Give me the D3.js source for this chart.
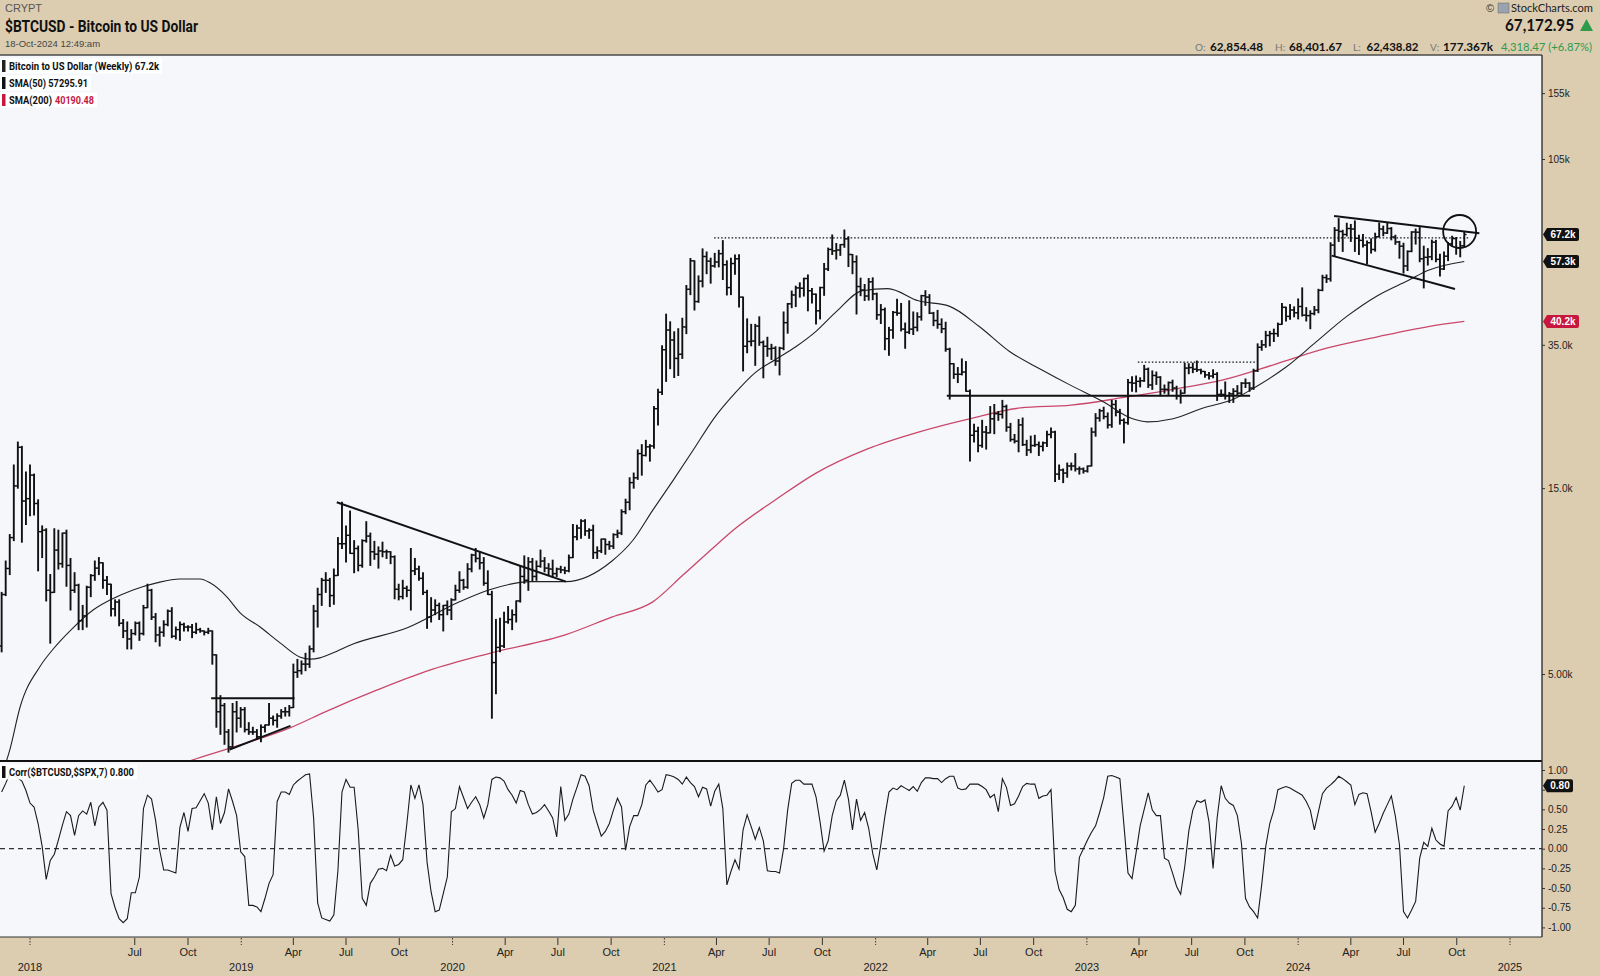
<!DOCTYPE html>
<html><head><meta charset="utf-8">
<script src="https://cdn.jsdelivr.net/npm/d3@7"></script>
<style>
body{margin:0;background:#dccdb1;}
svg{display:block}
</style></head><body>
<svg id="c" width="1600" height="976"></svg>
<script>
// ---------------- DATA (prices in thousands of USD, weekly bars) ----------------
const firstWeek = "2017-11-13";
const firstOpen = 5.9;
const weekHigh = [
 8.1,9.75,11.4,17.2,19.7,19.2,16.5,
 17.2,16.3,14.0,12.0,11.8,9.0,11.8,11.7,11.5,11.7,9.9,9.1,8.5,7.5,8.4,9.0,9.75,9.95,9.65,8.9,8.5,7.75,7.75,6.9,6.8,6.5,6.8,6.8,7.5,8.5,8.25,7.15,6.6,6.85,7.3,7.4,6.6,6.8,6.75,6.65,6.7,6.75,6.55,6.45,6.55,6.45,5.6,4.4,4.2,3.6,4.2,4.25,4.1,
 4.1,3.75,3.65,3.6,3.7,3.7,4.2,3.9,3.95,4.05,4.1,4.15,5.3,5.45,5.4,5.65,5.9,7.5,8.3,8.8,9.1,8.8,9.3,11.2,13.8,12.0,13.1,11.0,10.65,11.05,12.3,11.5,10.95,10.6,10.9,10.4,10.3,10.05,8.5,8.7,8.4,10.5,9.9,9.45,9.1,8.2,7.85,7.75,7.6,7.5,7.7,7.8,
 8.45,9.15,8.75,9.6,10.15,10.5,10.3,9.95,9.2,8.15,6.9,6.95,7.2,7.45,7.3,7.7,9.45,10.05,9.95,9.9,9.75,10.4,9.95,9.6,9.8,9.35,9.45,9.4,10.1,12.1,12.05,12.45,12.45,11.8,12.05,10.6,11.1,10.95,10.95,11.45,11.7,13.2,14.05,15.95,16.4,18.8,19.4,19.9,19.4,24.3,26.9,34.8,
 41.95,40.1,37.8,38.5,40.95,49.7,58.3,57.5,52.6,61.7,60.6,58.4,60.1,61.2,64.8,57.5,58.4,59.5,59.6,45.8,40.8,39.5,39.5,41.3,35.8,36.6,35.1,34.6,34.5,42.5,44.7,48.1,49.5,50.5,51.9,52.9,48.8,47.3,49.2,56.6,62.0,67.0,63.7,63.3,69.0,66.3,59.7,59.2,51.9,50.0,51.8,52.0,
 47.5,44.4,43.5,38.8,42.6,45.8,44.7,39.8,45.4,42.5,42.3,46.9,48.2,47.1,42.4,42.9,40.8,40.0,34.3,31.3,30.6,32.2,31.7,26.8,21.9,21.5,22.4,21.6,24.3,24.6,23.6,25.2,24.5,22.0,20.6,22.5,22.7,19.9,20.4,20.5,19.7,19.7,21.0,21.4,21.0,17.2,16.8,17.4,17.4,18.4,17.0,16.9,
 17.1,21.4,23.3,23.9,24.2,23.4,25.2,25.2,23.9,22.6,28.5,29.0,29.1,28.8,31.0,30.5,30.0,29.8,29.0,27.6,28.1,28.4,27.4,26.8,31.4,31.3,31.4,31.8,30.3,29.9,29.7,30.2,29.7,26.8,28.1,26.4,27.0,27.5,28.0,28.6,28.0,30.3,35.2,35.9,37.9,37.9,38.4,39.8,44.7,43.4,44.4,43.8,
 45.9,49.0,43.6,42.8,43.9,48.6,52.8,52.9,64.0,70.0,73.8,68.9,71.8,71.3,72.8,66.9,67.2,64.7,65.5,67.7,71.9,70.6,71.9,70.0,66.9,64.5,63.8,61.0,68.3,69.4,70.0,62.7,61.8,65.0,64.9,59.8,60.6,64.1,66.5,66.0,64.5,68.4
];
const weekLow = [
 5.7,7.95,9.0,11.0,15.0,10.9,12.1,
 12.75,12.8,9.2,9.95,7.7,6.0,8.1,9.3,9.4,8.4,7.3,8.1,6.5,6.5,6.6,7.9,8.7,9.0,8.3,8.0,7.05,7.05,6.65,6.2,5.8,5.8,6.3,6.1,6.3,7.4,6.9,6.05,5.9,6.25,6.65,6.2,6.15,6.1,6.45,6.45,6.2,6.35,6.4,6.3,6.35,5.3,3.65,3.5,3.3,3.15,3.25,3.55,3.65,
 3.55,3.5,3.5,3.4,3.35,3.55,3.7,3.7,3.65,3.85,3.9,3.9,4.1,4.9,5.0,5.1,5.2,5.7,6.6,7.5,8.1,7.45,7.55,8.95,10.5,9.7,10.2,9.1,9.2,9.4,10.9,9.5,9.85,9.35,10.0,9.9,9.6,7.8,7.75,7.8,7.9,7.3,9.0,8.7,8.0,6.55,6.8,7.1,6.9,6.45,7.1,6.9,
 7.75,8.1,8.25,8.3,9.15,9.7,9.3,8.45,8.0,3.85,4.45,5.7,5.85,6.75,6.5,6.8,7.65,8.55,8.2,8.65,8.7,9.4,9.15,8.95,8.85,8.9,9.1,9.05,9.15,9.95,11.05,11.15,11.35,11.15,9.9,9.9,10.25,10.15,10.45,10.5,11.2,11.4,12.9,13.2,15.0,15.8,16.2,18.15,17.6,19.0,21.8,26.1,
 28.2,30.4,28.85,29.2,32.3,37.4,47.1,43.0,45.0,49.3,53.3,50.4,55.4,55.5,51.5,47.0,47.1,53.1,43.8,30.0,33.4,34.8,31.0,34.9,28.8,32.7,32.1,31.0,29.3,34.0,37.5,43.6,43.9,46.4,46.7,42.8,44.8,39.6,40.8,46.9,54.3,59.7,58.1,59.4,62.3,55.6,53.3,42.0,46.8,45.5,45.6,45.7,
 40.7,39.7,34.0,32.9,36.4,41.7,38.0,34.3,37.4,37.2,38.0,40.5,44.2,42.1,39.2,38.6,37.6,33.7,25.4,28.7,28.0,29.3,26.6,17.6,19.7,18.6,19.1,18.9,20.8,20.7,22.4,22.7,21.0,19.8,19.6,18.6,19.3,18.2,18.5,19.2,18.2,18.7,19.2,20.2,15.6,15.8,15.5,16.0,16.7,16.6,16.3,16.4,
 16.5,17.1,20.4,22.3,22.6,21.4,21.5,23.0,21.9,19.6,21.9,26.6,26.5,27.3,28.2,27.2,26.9,27.7,25.9,26.3,26.1,26.6,25.4,24.8,26.3,29.5,29.7,29.9,29.5,28.9,28.6,28.8,25.2,25.8,25.4,24.9,24.9,26.0,26.0,27.2,26.6,26.9,29.9,33.9,34.5,34.8,35.7,36.8,39.5,40.3,40.7,41.3,
 40.8,41.5,40.3,38.5,41.8,42.3,48.2,50.6,51.0,59.0,64.5,60.8,66.6,64.5,60.8,59.7,62.4,56.5,60.2,60.9,66.3,66.7,67.6,65.1,63.4,58.4,53.5,54.3,60.7,63.5,57.2,49.0,56.1,57.9,57.2,52.6,54.6,57.6,62.7,59.8,58.9,62.44
];
const weekClose = [
 8.0,9.33,11.2,15.2,19.1,13.9,14.1,
 16.2,13.7,11.6,11.7,8.2,8.1,10.4,9.6,11.5,9.5,8.2,8.45,6.85,7.05,8.35,8.95,9.35,9.65,8.7,8.5,7.35,7.65,6.75,6.45,6.15,6.35,6.75,6.35,7.4,8.2,7.0,6.3,6.4,6.7,7.25,6.25,6.5,6.7,6.6,6.6,6.4,6.5,6.45,6.4,6.45,5.6,4.0,4.15,3.55,3.25,4.0,3.85,4.05,
 3.6,3.55,3.55,3.45,3.65,3.7,3.85,3.8,3.9,4.0,4.0,4.1,5.05,5.1,5.3,5.3,5.8,7.25,8.0,8.7,8.7,7.95,8.95,10.8,10.8,11.35,10.2,10.5,9.5,11.0,11.3,10.3,10.15,10.35,10.3,10.3,10.0,8.25,7.9,8.3,8.2,9.2,9.3,8.8,8.1,7.0,7.3,7.5,7.1,7.5,7.3,7.75,
 8.2,8.7,8.35,9.3,10.1,9.9,9.65,8.55,8.0,5.35,5.85,5.9,6.8,6.9,7.1,7.7,8.9,8.7,9.7,8.9,9.45,9.75,9.35,9.3,9.05,9.3,9.25,9.2,9.95,11.25,11.85,12.35,11.65,11.7,10.25,10.35,11.1,10.75,10.65,11.4,11.5,13.05,13.8,15.5,15.95,18.4,18.2,19.15,19.25,24.0,26.45,34.0,
 38.2,36.0,32.3,33.1,38.9,48.6,57.5,45.2,51.0,59.0,57.4,55.8,57.1,60.0,56.2,49.1,56.6,58.2,46.4,34.7,35.7,35.8,39.1,35.5,34.7,34.2,34.3,31.8,34.3,39.9,44.6,47.0,49.0,48.9,51.8,48.2,47.2,42.8,49.1,54.8,61.5,61.0,61.3,63.3,65.5,59.7,57.2,49.4,48.4,46.7,50.8,47.3,
 41.8,43.1,36.3,38.2,42.4,42.2,38.4,37.7,38.4,38.8,41.3,46.8,46.4,42.2,40.4,39.5,38.5,34.1,31.3,29.4,29.4,29.8,26.6,20.5,21.0,19.3,20.9,20.8,22.6,23.3,23.2,24.3,21.5,20.0,19.8,21.8,19.4,18.8,19.3,19.4,19.2,19.6,20.6,20.9,16.3,16.7,16.4,17.1,17.1,16.8,16.8,16.6,
 17.1,20.9,22.7,23.7,22.9,21.8,24.6,23.5,22.4,22.1,28.0,27.9,28.2,28.3,30.3,27.6,29.2,28.9,26.9,26.9,28.0,27.1,25.9,26.3,30.5,30.6,30.3,30.2,29.9,29.3,29.1,29.4,26.1,26.1,25.9,26.2,26.6,26.3,27.9,27.9,27.1,30.0,34.5,35.0,37.0,37.4,37.4,39.5,43.7,41.4,43.0,42.3,
 43.9,41.7,41.6,42.1,43.0,48.3,52.1,51.7,63.1,68.9,68.4,67.2,69.6,69.4,65.7,64.9,63.1,64.0,61.5,66.3,69.4,67.8,69.6,66.2,64.3,62.7,55.8,60.8,68.2,68.1,58.2,58.7,58.9,64.2,58.0,54.8,59.1,63.6,65.6,62.1,62.85,67.17
];
// Corr($BTCUSD,$SPX,7), one value per weekly bar
const corr = [
 0.72,0.83,0.95,0.93,0.90,0.86,0.74,0.58,0.53,0.32,
 0.03,-0.39,-0.15,-0.07,0.11,0.30,0.47,0.42,0.17,0.42,
 0.48,0.44,0.59,0.29,0.53,0.59,0.49,-0.57,-0.75,-0.89,
 -0.94,-0.89,-0.56,-0.56,-0.36,0.51,0.68,0.63,0.36,-0.02,
 -0.27,-0.27,-0.29,-0.31,0.27,0.46,0.22,0.51,0.52,0.61,
 0.70,0.58,0.24,0.66,0.32,0.46,0.76,0.60,0.42,-0.04,
 -0.10,-0.72,-0.72,-0.74,-0.80,-0.63,-0.44,-0.33,0.60,0.72,
 0.72,0.69,0.81,0.86,0.90,0.94,0.95,0.39,-0.69,-0.88,
 -0.90,-0.92,-0.84,-0.28,0.72,0.88,0.78,0.78,0.24,-0.63,
 -0.72,-0.44,-0.36,-0.26,-0.25,-0.28,-0.08,-0.22,-0.20,-0.14,
 0.31,0.81,0.64,0.81,0.56,-0.17,-0.55,-0.80,-0.78,-0.57,
 -0.36,0.47,0.51,0.79,0.65,0.51,0.59,0.66,0.56,0.39,
 0.56,0.88,0.91,0.90,0.86,0.75,0.68,0.58,0.74,0.72,
 0.56,0.44,0.46,0.50,0.56,0.48,0.39,0.15,0.79,0.36,
 0.44,0.63,0.78,0.94,0.92,0.80,0.49,0.32,0.16,0.22,
 0.32,0.49,0.64,0.53,-0.02,0.28,0.42,0.42,0.56,0.81,
 0.87,0.80,0.72,0.75,0.94,0.93,0.91,0.88,0.82,0.91,
 0.84,0.79,0.66,0.78,0.76,0.54,0.73,0.82,0.51,-0.46,
 -0.29,-0.14,-0.26,0.24,0.43,0.28,0.12,0.27,0.10,-0.28,
 -0.29,-0.29,-0.31,0.00,0.49,0.83,0.87,0.87,0.82,0.82,
 0.82,0.66,0.34,-0.03,0.10,0.42,0.61,0.68,0.87,0.63,
 0.24,0.63,0.36,0.46,0.26,-0.06,-0.27,0.05,0.41,0.72,
 0.77,0.75,0.80,0.77,0.74,0.79,0.73,0.84,0.90,0.90,
 0.89,0.89,0.84,0.89,0.92,0.92,0.77,0.75,0.76,0.82,
 0.82,0.82,0.79,0.75,0.65,0.69,0.47,0.89,0.78,0.55,
 0.57,0.67,0.79,0.83,0.82,0.82,0.64,0.67,0.68,0.75,
 -0.29,-0.52,-0.62,-0.77,-0.80,-0.72,-0.11,0.00,0.11,0.21,
 0.29,0.46,0.65,0.92,0.93,0.91,0.89,0.30,-0.31,-0.38,
 -0.05,0.29,0.50,0.71,0.49,0.42,0.42,-0.12,-0.15,-0.31,
 -0.48,-0.58,-0.23,0.22,0.49,0.61,0.59,0.62,0.34,-0.25,
 0.39,0.80,0.64,0.58,0.55,0.42,0.07,-0.63,-0.74,-0.80,
 -0.88,-0.46,0.03,0.32,0.49,0.75,0.77,0.79,0.77,0.74,
 0.71,0.68,0.60,0.49,0.24,0.47,0.70,0.77,0.81,0.86,
 0.92,0.89,0.85,0.81,0.56,0.69,0.71,0.70,0.47,0.21,
 0.32,0.45,0.56,0.67,0.41,0.05,-0.80,-0.88,-0.78,-0.67,
 -0.12,0.08,0.03,0.26,0.11,0.06,0.03,0.48,0.54,0.65,
 0.49,0.80
];
// moving averages (date, thousands USD)
const sma50 = [["2017-11-13",2.75],["2017-11-27",3.19],["2017-12-15",4.12],["2018-01-18",5.22],["2018-02-09",5.77],["2018-03-16",6.56],["2018-04-20",7.30],["2018-05-19",7.74],["2018-06-28",8.22],["2018-08-08",8.57],["2018-09-17",8.77],["2018-10-22",8.77],["2018-11-08",8.57],["2018-12-07",7.89],["2018-12-30",7.18],["2019-02-02",6.61],["2019-03-09",6.01],["2019-04-12",5.53],["2019-04-30",5.46],["2019-05-17",5.50],["2019-06-08",5.66],["2019-07-08",5.93],["2019-10-16",6.58],["2020-01-12",7.65],["2020-03-05",8.23],["2020-05-15",8.63],["2020-07-15",8.63],["2020-10-02",9.74],["2020-11-07",10.99],["2020-12-12",13.17],["2021-01-17",15.78],["2021-02-21",18.9],["2021-03-28",22.7],["2021-05-03",26.3],["2021-06-07",29.7],["2021-07-12",32.1],["2021-08-16",34.6],["2021-09-20",37.9],["2021-10-26",42.7],["2021-12-09",48.2],["2022-01-22",48.8],["2022-03-16",45.4],["2022-05-08",44.0],["2022-06-29",39.0],["2022-08-21",33.6],["2022-10-13",30.3],["2022-12-05",27.5],["2023-01-27",25.1],["2023-03-21",22.6],["2023-04-15",22.2],["2023-05-30",22.6],["2023-07-21",24.1],["2023-09-12",25.4],["2023-10-18",27.2],["2023-12-10",30.6],["2024-02-01",35.6],["2024-03-25",41.4],["2024-05-17",46.8],["2024-07-09",51.2],["2024-08-13",54.4],["2024-10-14",57.3]];
const sma200 = [["2018-08-01",2.75],["2018-10-07",3.0],["2018-12-20",3.25],["2019-03-27",3.64],["2019-05-28",4.01],["2019-08-24",4.55],["2019-11-20",5.1],["2020-03-07",5.66],["2020-07-15",6.31],["2020-10-02",7.0],["2020-12-12",7.66],["2021-02-03",9.0],["2021-03-28",10.6],["2021-05-03",11.8],["2021-07-12",14.0],["2021-09-20",16.4],["2021-12-17",18.9],["2022-03-16",20.9],["2022-06-12",22.6],["2022-09-08",24.1],["2022-12-05",24.5],["2023-03-03",25.6],["2023-05-30",26.9],["2023-08-26",28.5],["2023-11-22",31.2],["2024-02-19",34.3],["2024-05-17",36.7],["2024-08-13",39.0],["2024-10-14",40.19]];
// hand-drawn annotations (date, thousands USD)
const trendLines = [
 {a:["2018-11-10",4.33],b:["2019-04-03",4.33],dot:false},
 {a:["2018-12-12",3.2],b:["2019-03-27",3.68],dot:false},
 {a:["2019-06-15",13.8],b:["2020-07-15",8.63],dot:false},
 {a:["2021-03-28",65.9],b:["2024-10-22",65.9],dot:true},
 {a:["2022-05-04",25.9],b:["2023-10-10",25.9],dot:false},
 {a:["2023-03-30",31.6],b:["2023-10-19",31.6],dot:true},
 {a:["2024-03-03",75.0],b:["2024-11-09",67.7],dot:false},
 {a:["2024-02-28",59.3],b:["2024-09-28",48.7],dot:false}
];
const circleMark = ["2024-10-06",68.4];
const priceTicks = [5,15,35,105,155];
const priceTickLabels = ["5.00k","15.0k","35.0k","105k","155k"];
const corrTicks = [1,0.75,0.5,0.25,0,-0.25,-0.5,-0.75,-1];
const corrTicksHidden = [0.75];          // covered by the last-value tag
const monthTicksSkipped = ["2018-04-01"];  // not labelled on the reference
const lastValues = {price:67.17, priceLabel:"67.2k", sma50:57.3, sma50Label:"57.3k", sma200:40.19, sma200Label:"40.2k", corr:0.80, corrLabel:"0.80"};

// ---------------- DRAW ----------------
const svg = d3.select("#c");
const BEIGE="#dccdb1", PLOTBG="#f5f7fb", RED="#c8173f", SMARED="#c9486a";
const parse = d3.utcParse("%Y-%m-%d");
const x = d3.scaleUtc().domain([parse("2018-01-01"), parse("2025-01-01")]).range([30,1510]);
const yP = d3.scaleLog().domain([5,155]).range([674,93.1]);
const yC = d3.scaleLinear().domain([-1,1]).range([927.4,770]);
const R = 1542, TOP = 55, PB = 761, CB = 937;

svg.append("rect").attr("width",1600).attr("height",976).attr("fill",BEIGE);
svg.append("rect").attr("x",0).attr("y",TOP).attr("width",R).attr("height",CB-TOP).attr("fill",PLOTBG);

const defs = svg.append("defs");
defs.append("clipPath").attr("id","pc").append("rect").attr("x",0).attr("y",TOP).attr("width",R).attr("height",PB-TOP);
defs.append("clipPath").attr("id","cc").append("rect").attr("x",0).attr("y",PB).attr("width",R).attr("height",CB-PB);

const t0 = parse(firstWeek);
const weeks = weekClose.map((c,i)=>({date:d3.utcDay.offset(t0,7*i), o:i?weekClose[i-1]:firstOpen, h:weekHigh[i], l:weekLow[i], c:c, r:corr[i]}));

// moving averages
const lineP = d3.line().x(d=>x(parse(d[0]))).y(d=>yP(d[1])).curve(d3.curveMonotoneX);
const gP = svg.append("g").attr("clip-path","url(#pc)");
gP.append("path").attr("d",lineP(sma200)).attr("fill","none").attr("stroke",SMARED).attr("stroke-width",1.3);
gP.append("path").attr("d",lineP(sma50)).attr("fill","none").attr("stroke","#222").attr("stroke-width",1.1);

// OHLC bars
const gb = gP.append("g").attr("stroke","#111");
const bars = gb.selectAll("g.bar").data(weeks).join("g").attr("class","bar");
bars.append("line").attr("x1",d=>x(d.date)).attr("x2",d=>x(d.date))
  .attr("y1",d=>yP(Math.max(d.h,d.o,d.c))-0.5).attr("y2",d=>yP(Math.min(d.l,d.o,d.c))+0.5).attr("stroke-width",1.9);
bars.append("line").attr("x1",d=>x(d.date)-2.3).attr("x2",d=>x(d.date)).attr("y1",d=>yP(d.o)).attr("y2",d=>yP(d.o)).attr("stroke-width",1.4);
bars.append("line").attr("x1",d=>x(d.date)).attr("x2",d=>x(d.date)+2.3).attr("y1",d=>yP(d.c)).attr("y2",d=>yP(d.c)).attr("stroke-width",1.4);

// annotations
gP.selectAll("line.tl").data(trendLines).join("line").attr("class","tl")
  .attr("x1",d=>x(parse(d.a[0]))).attr("y1",d=>yP(d.a[1])).attr("x2",d=>x(parse(d.b[0]))).attr("y2",d=>yP(d.b[1]))
  .attr("stroke","#111").attr("stroke-width",d=>d.dot?1.3:2).attr("stroke-dasharray",d=>d.dot?"1.5,2":null);
gP.append("circle").attr("cx",x(parse(circleMark[0]))).attr("cy",yP(circleMark[1])).attr("r",16.5)
  .attr("fill","none").attr("stroke","#111").attr("stroke-width",1.8);

// correlation panel
const gC = svg.append("g").attr("clip-path","url(#cc)");
gC.append("line").attr("x1",0).attr("x2",R).attr("y1",yC(0)).attr("y2",yC(0)).attr("stroke","#333").attr("stroke-width",1.2).attr("stroke-dasharray","5,4");
gC.append("path").datum(weeks).attr("d",d3.line().x(d=>x(d.date)).y(d=>yC(d.r))).attr("fill","none").attr("stroke","#1a1a1a").attr("stroke-width",1.1);

// borders
svg.append("line").attr("x1",0).attr("x2",R).attr("y1",TOP).attr("y2",TOP).attr("stroke","#4a4a4a").attr("stroke-width",1.5);
svg.append("line").attr("x1",0).attr("x2",R).attr("y1",PB).attr("y2",PB).attr("stroke","#111").attr("stroke-width",2);
svg.append("line").attr("x1",0).attr("x2",R).attr("y1",CB).attr("y2",CB).attr("stroke","#333").attr("stroke-width",1.2);
svg.append("line").attr("x1",R).attr("x2",R).attr("y1",TOP).attr("y2",CB).attr("stroke","#333").attr("stroke-width",1.4);

// right axes
const axFont = "'Liberation Sans', Arial, sans-serif";
function styleAxis(g){ g.select(".domain").remove(); g.selectAll("line").attr("stroke","#333");
  g.selectAll("text").attr("font-family",axFont).attr("font-size",10).attr("fill","#222"); }
svg.append("g").attr("transform",`translate(${R},0)`)
  .call(d3.axisRight(yP).tickValues(priceTicks).tickFormat((d,i)=>priceTickLabels[i]).tickSize(3).tickPadding(3)).call(styleAxis);
svg.append("g").attr("transform",`translate(${R},0)`)
  .call(d3.axisRight(yC).tickValues(corrTicks).tickFormat(d=>corrTicksHidden.includes(d)?"":d.toFixed(2)).tickSize(3).tickPadding(3)).call(styleAxis);

// value tags
function tag(y, label, fill, w){
  const g = svg.append("g");
  g.append("path").attr("d",`M${R+1},${y} L${R+5},${y-6.5} L${R+w},${y-6.5} Q${R+w+2},${y-6.5} ${R+w+2},${y-4.5} L${R+w+2},${y+4.5} Q${R+w+2},${y+6.5} ${R+w},${y+6.5} L${R+5},${y+6.5} Z`).attr("fill",fill);
  g.append("text").attr("x",R+5+(w-5)/2+1).attr("y",y).attr("dy","0.35em").attr("text-anchor","middle")
   .attr("font-family",axFont).attr("font-weight","bold").attr("font-size",10).attr("fill","#fff").text(label);
}
tag(yP(lastValues.price), lastValues.priceLabel, "#111", 35);
tag(yP(lastValues.sma50), lastValues.sma50Label, "#111", 35);
tag(yP(lastValues.sma200), lastValues.sma200Label, RED, 35);
tag(yC(lastValues.corr), lastValues.corrLabel, "#111", 29);

// bottom time axis
const qTicks = d3.utcMonth.every(3).range(parse("2018-01-01"), parse("2025-01-02"))
  .filter(d=>!monthTicksSkipped.includes(d3.utcFormat("%Y-%m-%d")(d)));
const gx = svg.append("g");
qTicks.forEach(d=>{
  const xx = x(d), isYear = d.getUTCMonth()===0;
  gx.append("line").attr("x1",xx).attr("x2",xx).attr("y1",CB+1).attr("y2",CB+8).attr("stroke","#333")
    .attr("stroke-width",1).attr("stroke-dasharray",isYear?"1.5,1.5":null);
  if(isYear){
    gx.append("text").attr("x",xx).attr("y",967).attr("dy","0.35em").attr("text-anchor","middle")
      .attr("font-family",axFont).attr("font-size",11).attr("fill","#222").text(d3.utcFormat("%Y")(d));
  } else {
    gx.append("text").attr("x",xx).attr("y",952).attr("dy","0.35em").attr("text-anchor","middle")
      .attr("font-family",axFont).attr("font-size",11).attr("fill","#222").text(d3.utcFormat("%b")(d));
  }
});

// header texts
const hf = "Roboto, 'Liberation Sans', sans-serif";
function txt(x0,y0,s,opt){ const t=svg.append("text").attr("x",x0).attr("y",y0).attr("dy","0.35em").text(s)
  .attr("font-family",opt.f||hf).attr("font-size",opt.fs||11).attr("fill",opt.c||"#111");
  if(opt.b) t.attr("font-weight","bold"); if(opt.a) t.attr("text-anchor",opt.a);
  if(opt.tl) t.attr("textLength",opt.tl).attr("lengthAdjust","spacingAndGlyphs"); return t; }
txt(5,8.5,"CRYPT",{f:axFont,fs:11,c:"#555"});
txt(5,26.5,"$BTCUSD - Bitcoin to US Dollar",{fs:16,b:true,tl:193,c:"#111"});
txt(5,44,"18-Oct-2024 12:49:am",{f:axFont,fs:9.5,c:"#444"});

txt(1486,8,"©",{f:axFont,fs:11,c:"#333"});
svg.append("rect").attr("x",1498).attr("y",3).attr("width",11).attr("height",10).attr("fill","#9aa3ad").attr("stroke","#666").attr("stroke-width",0.5);
txt(1511,8,"StockCharts.com",{f:"Lato, 'Liberation Sans', sans-serif",fs:12,tl:82,c:"#222"});
txt(1505,25.5,"67,172.95",{f:"Lato, 'Liberation Sans', sans-serif",fs:17,b:true,tl:69,c:"#111"});
svg.append("path").attr("d","M1580,31 L1586.5,19 L1593,31 Z").attr("fill","#2e9a4b");
const lf="Lato, 'Liberation Sans', sans-serif";
txt(1195,47,"O:",{f:lf,fs:10,c:"#777"}); txt(1210,47,"62,854.48",{f:lf,fs:12,b:true,tl:53});
txt(1275,47,"H:",{f:lf,fs:10,c:"#777"}); txt(1289,47,"68,401.67",{f:lf,fs:12,b:true,tl:53});
txt(1353,47,"L:",{f:lf,fs:10,c:"#777"}); txt(1366.5,47,"62,438.82",{f:lf,fs:12,b:true,tl:52});
txt(1430,47,"V:",{f:lf,fs:10,c:"#777"}); txt(1443,47,"177.367k",{f:lf,fs:12,b:true,tl:50});
txt(1501,47,"4,318.47 (+6.87%)",{f:lf,fs:12,c:"#2e9a4b",tl:91});

// legends
function legendRow(y0, w, swatch, parts){
  svg.append("rect").attr("x",0).attr("y",y0-7.5).attr("width",w).attr("height",15).attr("fill","#fff").attr("opacity",0.9);
  svg.append("rect").attr("x",2).attr("y",y0-6).attr("width",3.5).attr("height",12).attr("fill",swatch);
  parts.forEach(p=>txt(p.x,y0,p.s,{fs:10.5,b:true,c:p.c||"#111",tl:p.tl}));
}
legendRow(66,162,"#222",[{x:9,s:"Bitcoin to US Dollar (Weekly) 67.2k",tl:150}]);
legendRow(83,91,"#111",[{x:9,s:"SMA(50) 57295.91",tl:79}]);
legendRow(100,97,RED,[{x:9,s:"SMA(200)",tl:43},{x:55,s:"40190.48",c:RED,tl:39}]);
legendRow(772,137,"#111",[{x:9,s:"Corr($BTCUSD,$SPX,7) 0.800",tl:125}]);
</script>
</body></html>
